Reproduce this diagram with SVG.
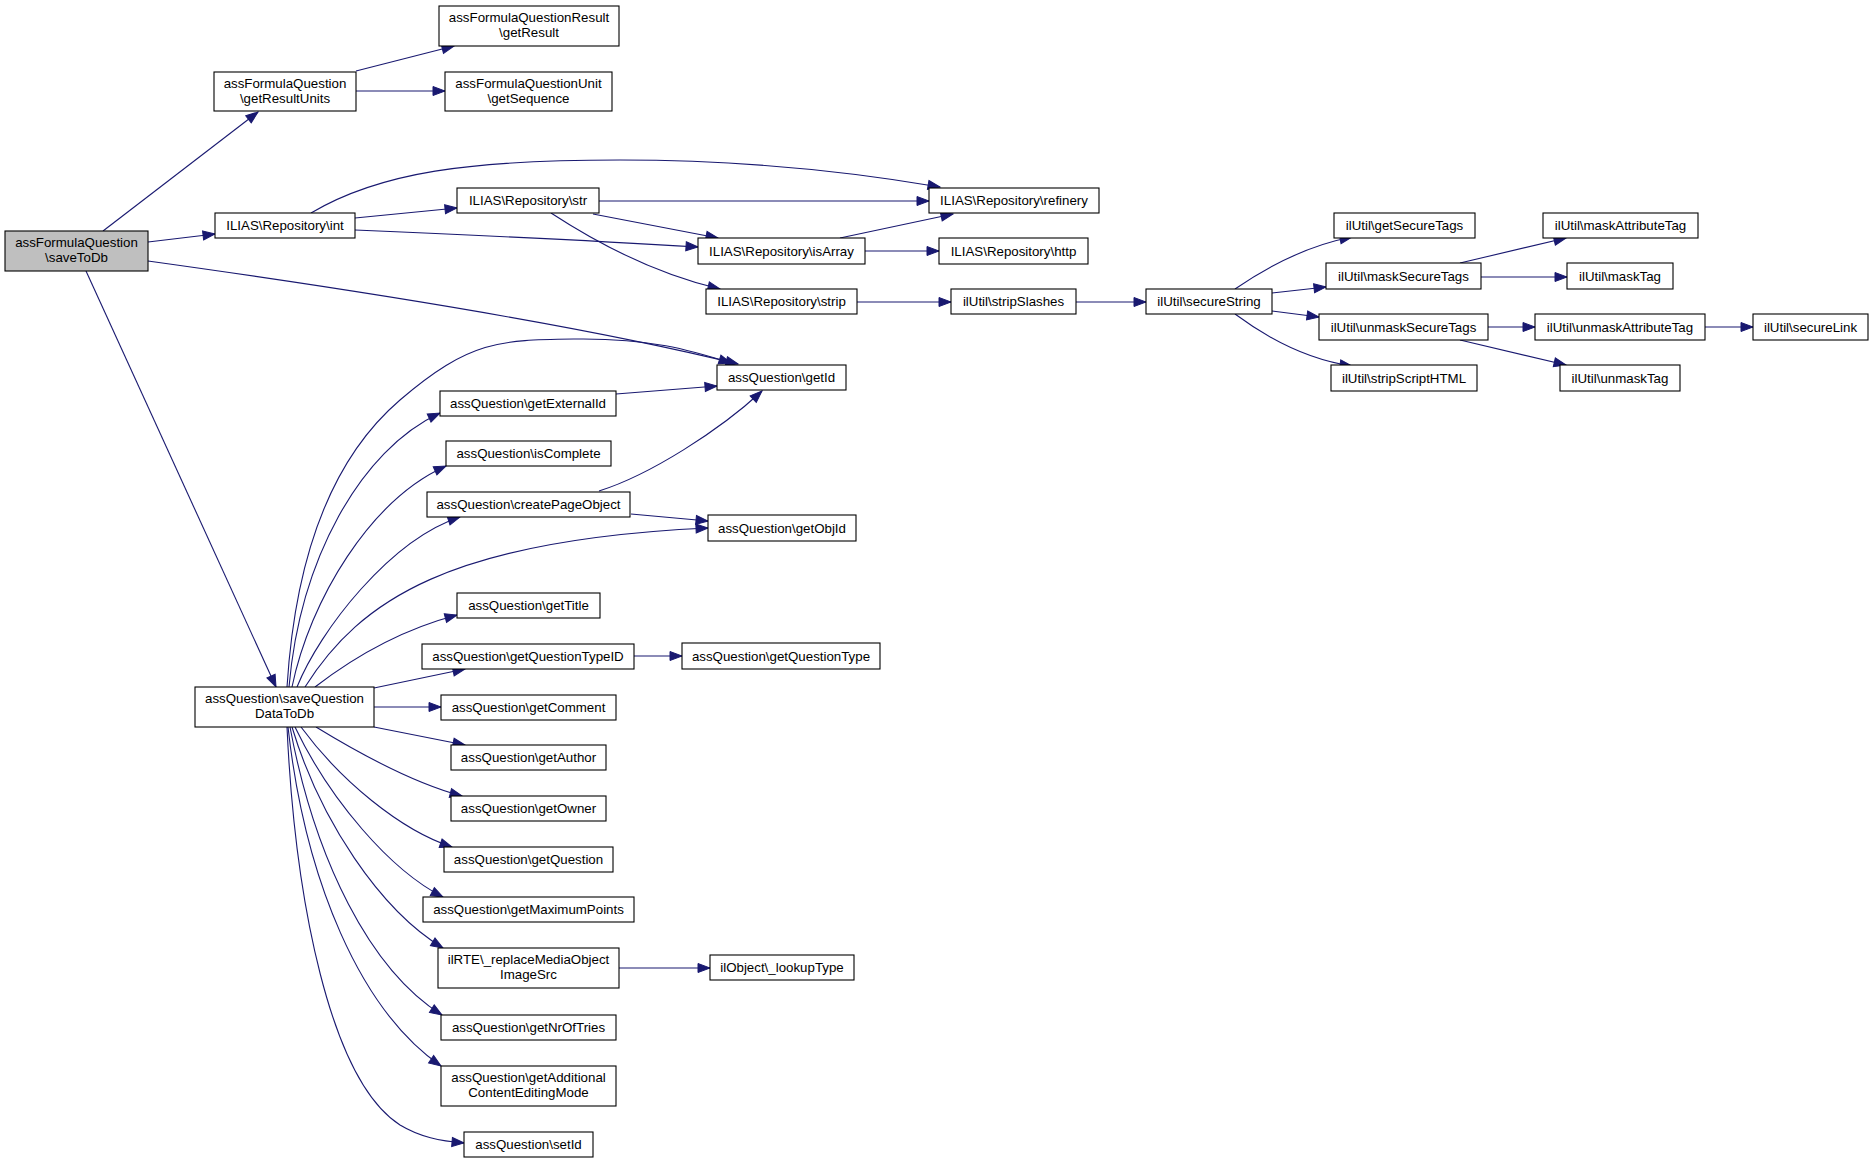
<svg xmlns="http://www.w3.org/2000/svg" width="1873" height="1163" viewBox="0 0 1873 1163">
<style>
.n rect{fill:#fff;stroke:#000;stroke-width:1.1}
.n.h rect{fill:#bfbfbf}
.n text{font-family:"Liberation Sans",Arial,sans-serif;font-size:13.3px;fill:#000;text-anchor:middle}
.e path{fill:none;stroke:#191970;stroke-width:1.1;marker-end:url(#a)}
</style>
<defs>
<marker id="a" markerUnits="userSpaceOnUse" markerWidth="14" markerHeight="10" refX="12" refY="4.5" orient="auto" overflow="visible">
<path d="M0,0 L12,4.5 L0,9 z" fill="#191970" stroke="#191970" stroke-width="1"/>
</marker>
</defs>
<rect width="1873" height="1163" fill="#fff"/>
<g id="edges" class="e">
<path d="M103,231 L258,112"/>
<path d="M356,71 L454,46"/>
<path d="M356,91 L445,91"/>
<path d="M148,242 L215,234"/>
<path d="M148,261 C400,296 600,330 738,364"/>
<path d="M86,271 L276,687"/>
<path d="M311,213 C380,172 470,160 620,160 C760,160 870,175 940,187"/>
<path d="M355,218 L457,208"/>
<path d="M355,230 C450,234 600,241 698,247"/>
<path d="M599,201 L929,201"/>
<path d="M593,214 L718,238"/>
<path d="M551,213 C600,245 660,275 720,289"/>
<path d="M840,238 L953,214"/>
<path d="M865,251 L939,251"/>
<path d="M857,302 L951,302"/>
<path d="M1076,302 L1146,302"/>
<path d="M1235,289 C1270,265 1310,245 1352,237"/>
<path d="M1272,293 L1326,287"/>
<path d="M1272,311 L1319,317"/>
<path d="M1235,314 C1270,340 1310,360 1352,366"/>
<path d="M1460,263 L1566,238"/>
<path d="M1481,277 L1567,277"/>
<path d="M1488,327 L1535,327"/>
<path d="M1460,340 L1566,365"/>
<path d="M1705,327 L1753,327"/>
<path d="M616,394 L717,386"/>
<path d="M599,491 C650,475 720,430 762,391"/>
<path d="M631,514 L708,521"/>
<path d="M287,687 C295,560 330,460 400,400 S500,340 575,339 S690,350 731,363"/>
<path d="M289,687 C300,560 360,450 440,413"/>
<path d="M292,687 C310,600 370,500 446,466"/>
<path d="M297,687 C320,630 390,540 460,517"/>
<path d="M305,687 C360,600 450,540 708,528"/>
<path d="M315,687 C350,660 400,630 457,615"/>
<path d="M374,688 L465,669"/>
<path d="M374,707 L441,707"/>
<path d="M374,727 L465,745"/>
<path d="M316,727 C370,760 420,785 462,796"/>
<path d="M301,727 C340,780 400,830 452,847"/>
<path d="M295,727 C330,800 390,870 443,897"/>
<path d="M292,727 C320,820 380,910 443,948"/>
<path d="M290,727 C315,860 370,970 442,1015"/>
<path d="M288,727 C305,880 360,1010 441,1066"/>
<path d="M287,727 C295,900 330,1080 400,1125 C420,1137 440,1141 464,1143"/>
<path d="M634,656 L682,656"/>
<path d="M619,968 L710,968"/>
</g>
<g id="saveToDb" class="n h"><rect x="5" y="231" width="143" height="40"/><text x="76.5" y="247">assFormulaQuestion</text><text x="76.5" y="262">\saveToDb</text></g>
<g id="getResultUnits" class="n"><rect x="214" y="72" width="142" height="39"/><text x="285" y="88">assFormulaQuestion</text><text x="285" y="103">\getResultUnits</text></g>
<g id="getResult" class="n"><rect x="439" y="6" width="180" height="40"/><text x="529" y="22">assFormulaQuestionResult</text><text x="529" y="37">\getResult</text></g>
<g id="getSequence" class="n"><rect x="445" y="72" width="167" height="39"/><text x="528.5" y="88">assFormulaQuestionUnit</text><text x="528.5" y="103">\getSequence</text></g>
<g id="int" class="n"><rect x="215" y="213" width="140" height="25"/><text x="285" y="230">ILIAS\Repository\int</text></g>
<g id="str" class="n"><rect x="457" y="188" width="142" height="25"/><text x="528" y="205">ILIAS\Repository\str</text></g>
<g id="refinery" class="n"><rect x="929" y="188" width="170" height="25"/><text x="1014" y="205">ILIAS\Repository\refinery</text></g>
<g id="isArray" class="n"><rect x="698" y="238" width="167" height="26"/><text x="781.5" y="255.5">ILIAS\Repository\isArray</text></g>
<g id="http" class="n"><rect x="939" y="238" width="149" height="26"/><text x="1013.5" y="255.5">ILIAS\Repository\http</text></g>
<g id="strip" class="n"><rect x="706" y="289" width="151" height="25"/><text x="781.5" y="306">ILIAS\Repository\strip</text></g>
<g id="stripSlashes" class="n"><rect x="951" y="289" width="125" height="25"/><text x="1013.5" y="306">ilUtil\stripSlashes</text></g>
<g id="secureString" class="n"><rect x="1146" y="289" width="126" height="25"/><text x="1209" y="306">ilUtil\secureString</text></g>
<g id="getSecureTags" class="n"><rect x="1334" y="213" width="141" height="25"/><text x="1404.5" y="230">ilUtil\getSecureTags</text></g>
<g id="maskSecureTags" class="n"><rect x="1326" y="263" width="155" height="26"/><text x="1403.5" y="280.5">ilUtil\maskSecureTags</text></g>
<g id="unmaskSecureTags" class="n"><rect x="1319" y="314" width="169" height="26"/><text x="1403.5" y="331.5">ilUtil\unmaskSecureTags</text></g>
<g id="stripScriptHTML" class="n"><rect x="1331" y="365" width="146" height="26"/><text x="1404" y="382.5">ilUtil\stripScriptHTML</text></g>
<g id="maskAttributeTag" class="n"><rect x="1543" y="213" width="155" height="25"/><text x="1620.5" y="230">ilUtil\maskAttributeTag</text></g>
<g id="maskTag" class="n"><rect x="1567" y="263" width="106" height="26"/><text x="1620" y="280.5">ilUtil\maskTag</text></g>
<g id="unmaskAttributeTag" class="n"><rect x="1535" y="314" width="170" height="26"/><text x="1620" y="331.5">ilUtil\unmaskAttributeTag</text></g>
<g id="unmaskTag" class="n"><rect x="1560" y="365" width="120" height="26"/><text x="1620" y="382.5">ilUtil\unmaskTag</text></g>
<g id="secureLink" class="n"><rect x="1753" y="314" width="115" height="26"/><text x="1810.5" y="331.5">ilUtil\secureLink</text></g>
<g id="getId" class="n"><rect x="717" y="365" width="129" height="25"/><text x="781.5" y="382">assQuestion\getId</text></g>
<g id="getExternalId" class="n"><rect x="440" y="391" width="176" height="25"/><text x="528" y="408">assQuestion\getExternalId</text></g>
<g id="isComplete" class="n"><rect x="446" y="441" width="165" height="25"/><text x="528.5" y="458">assQuestion\isComplete</text></g>
<g id="createPageObject" class="n"><rect x="427" y="492" width="203" height="25"/><text x="528.5" y="509">assQuestion\createPageObject</text></g>
<g id="getObjId" class="n"><rect x="708" y="515" width="148" height="26"/><text x="782" y="532.5">assQuestion\getObjId</text></g>
<g id="getTitle" class="n"><rect x="457" y="593" width="143" height="25"/><text x="528.5" y="610">assQuestion\getTitle</text></g>
<g id="getQuestionTypeID" class="n"><rect x="422" y="644" width="212" height="25"/><text x="528" y="661">assQuestion\getQuestionTypeID</text></g>
<g id="getQuestionType" class="n"><rect x="682" y="643" width="198" height="26"/><text x="781" y="660.5">assQuestion\getQuestionType</text></g>
<g id="saveQuestionDataToDb" class="n"><rect x="195" y="687" width="179" height="40"/><text x="284.5" y="703">assQuestion\saveQuestion</text><text x="284.5" y="718">DataToDb</text></g>
<g id="getComment" class="n"><rect x="441" y="695" width="175" height="25"/><text x="528.5" y="712">assQuestion\getComment</text></g>
<g id="getAuthor" class="n"><rect x="451" y="745" width="155" height="25"/><text x="528.5" y="762">assQuestion\getAuthor</text></g>
<g id="getOwner" class="n"><rect x="451" y="796" width="155" height="25"/><text x="528.5" y="813">assQuestion\getOwner</text></g>
<g id="getQuestion" class="n"><rect x="444" y="847" width="169" height="25"/><text x="528.5" y="864">assQuestion\getQuestion</text></g>
<g id="getMaximumPoints" class="n"><rect x="423" y="897" width="211" height="25"/><text x="528.5" y="914">assQuestion\getMaximumPoints</text></g>
<g id="replaceMediaObjectImageSrc" class="n"><rect x="438" y="948" width="181" height="40"/><text x="528.5" y="964">ilRTE\_replaceMediaObject</text><text x="528.5" y="979">ImageSrc</text></g>
<g id="lookupType" class="n"><rect x="710" y="955" width="144" height="25"/><text x="782" y="972">ilObject\_lookupType</text></g>
<g id="getNrOfTries" class="n"><rect x="441" y="1015" width="175" height="25"/><text x="528.5" y="1032">assQuestion\getNrOfTries</text></g>
<g id="getAdditionalContentEditingMode" class="n"><rect x="441" y="1066" width="175" height="40"/><text x="528.5" y="1082">assQuestion\getAdditional</text><text x="528.5" y="1097">ContentEditingMode</text></g>
<g id="setId" class="n"><rect x="464" y="1132" width="129" height="25"/><text x="528.5" y="1149">assQuestion\setId</text></g>
</svg>
